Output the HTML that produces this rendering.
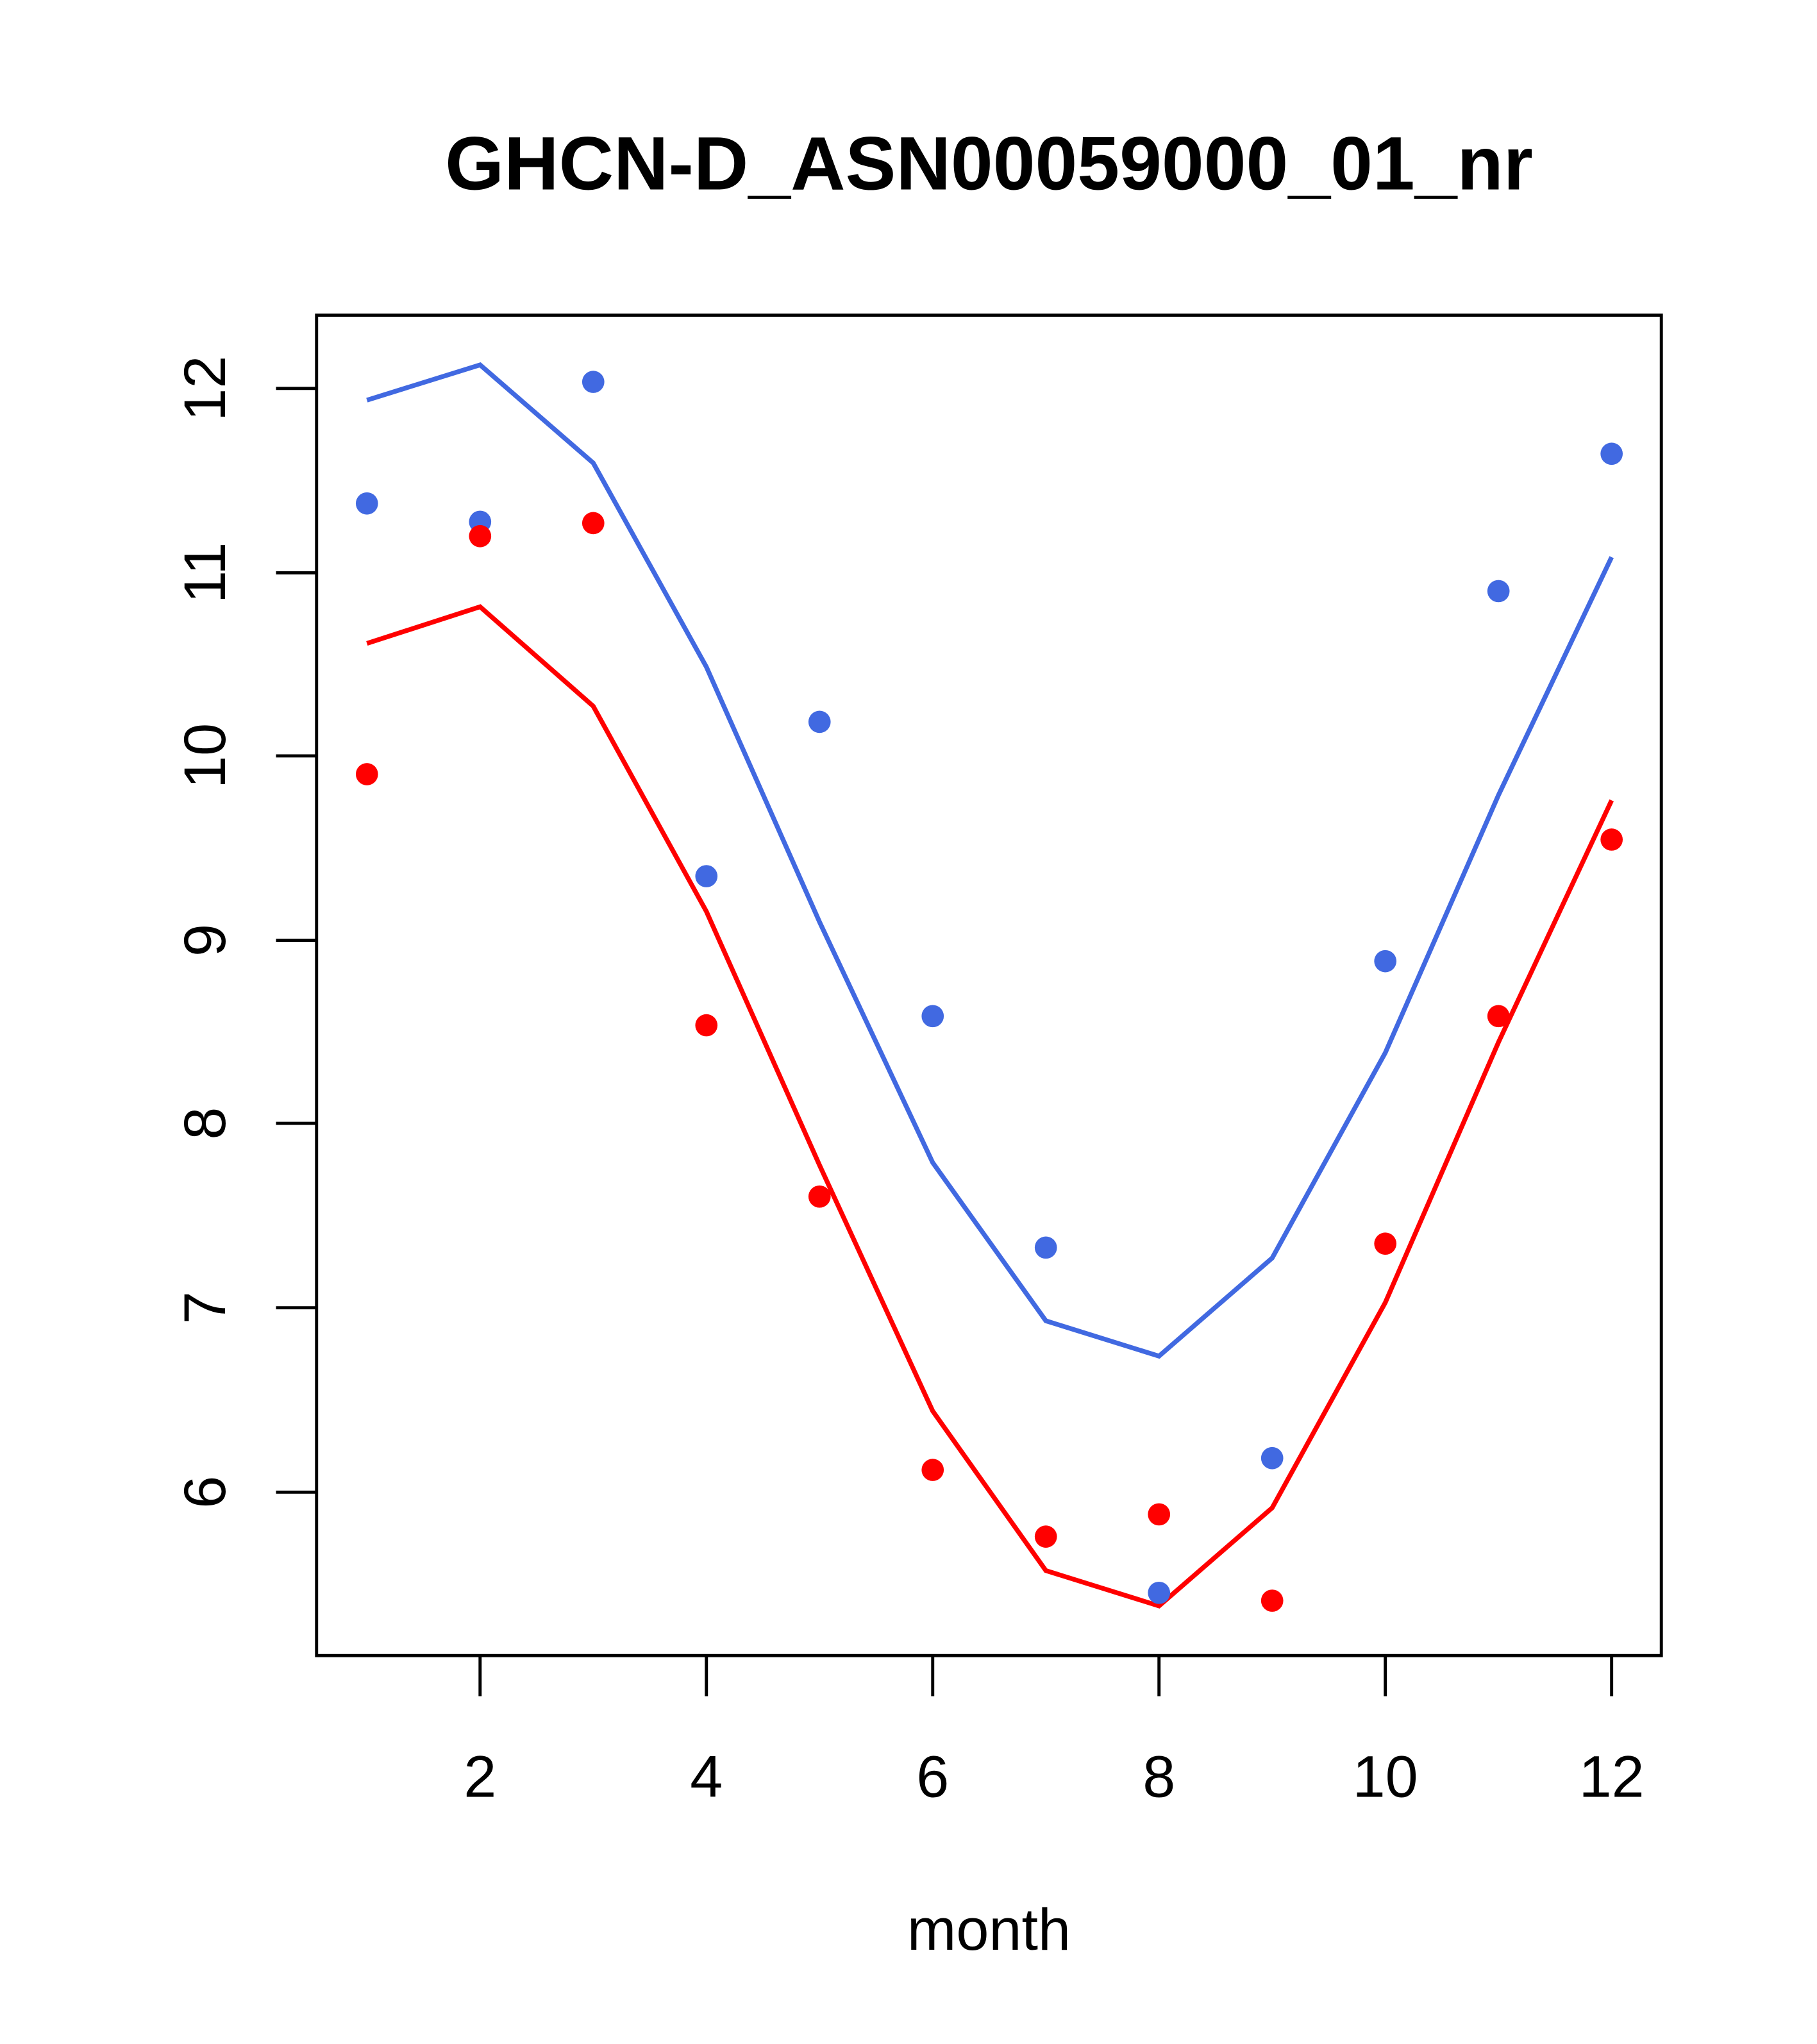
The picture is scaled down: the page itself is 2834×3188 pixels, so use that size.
<!DOCTYPE html>
<html><head><meta charset="utf-8"><style>html,body{margin:0;padding:0;background:#fff}svg{display:block}</style></head>
<body>
<svg width="2834" height="3188" viewBox="0 0 1389 1563" preserveAspectRatio="none" xmlns="http://www.w3.org/2000/svg" font-family="Liberation Sans, Arial, sans-serif">
<rect width="1389" height="1563" fill="#fff"/>
<text x="756" y="145" font-size="58" font-weight="bold" text-anchor="middle">GHCN-D_ASN00059000_01_nr</text>
<rect x="242" y="241" width="1028" height="1025" fill="none" stroke="#000" stroke-width="2.4"/>
<g stroke="#000" stroke-width="2.4">
<line x1="367" y1="1266" x2="367" y2="1297"/><line x1="540" y1="1266" x2="540" y2="1297"/><line x1="713" y1="1266" x2="713" y2="1297"/><line x1="886" y1="1266" x2="886" y2="1297"/><line x1="1059" y1="1266" x2="1059" y2="1297"/><line x1="1232" y1="1266" x2="1232" y2="1297"/>
<line x1="242" y1="297" x2="211" y2="297"/><line x1="242" y1="438" x2="211" y2="438"/><line x1="242" y1="578" x2="211" y2="578"/><line x1="242" y1="719" x2="211" y2="719"/><line x1="242" y1="859" x2="211" y2="859"/><line x1="242" y1="1000" x2="211" y2="1000"/><line x1="242" y1="1141" x2="211" y2="1141"/>
</g>
<g font-size="45" text-anchor="middle">
<text x="367" y="1374">2</text><text x="540" y="1374">4</text><text x="713" y="1374">6</text><text x="886" y="1374">8</text><text x="1059" y="1374">10</text><text x="1232" y="1374">12</text>
<text x="756" y="1491">month</text>
<text transform="translate(172,297) rotate(-90)">12</text>
<text transform="translate(172,438) rotate(-90)">11</text>
<text transform="translate(172,578) rotate(-90)">10</text>
<text transform="translate(172,719) rotate(-90)">9</text>
<text transform="translate(172,859) rotate(-90)">8</text>
<text transform="translate(172,1000) rotate(-90)">7</text>
<text transform="translate(172,1141) rotate(-90)">6</text>
</g>
<polyline fill="none" stroke="#4169E1" stroke-width="3.6" points="280.5,306 367,279 453.5,354 540,510 626.5,705 713,889 799.5,1010 886,1037 972.5,962 1059,805 1145.5,608 1232,426"/>
<polyline fill="none" stroke="#FF0000" stroke-width="3.6" points="280.5,492 367,464 453.5,540 540,697 626.5,891 713,1079 799.5,1201 886,1228 972.5,1153 1059,996 1145.5,797 1232,612"/>
<g fill="#4169E1">
<circle cx="280.5" cy="385" r="8.5"/><circle cx="367" cy="399" r="8.5"/><circle cx="453.5" cy="292" r="8.5"/><circle cx="540" cy="670" r="8.5"/><circle cx="626.5" cy="552" r="8.5"/><circle cx="713" cy="777" r="8.5"/><circle cx="799.5" cy="954" r="8.5"/><circle cx="886" cy="1218" r="8.5"/><circle cx="972.5" cy="1115" r="8.5"/><circle cx="1059" cy="735" r="8.5"/><circle cx="1145.5" cy="452" r="8.5"/><circle cx="1232" cy="347" r="8.5"/>
</g>
<g fill="#FF0000">
<circle cx="280.5" cy="592" r="8.5"/><circle cx="367" cy="410" r="8.5"/><circle cx="453.5" cy="400" r="8.5"/><circle cx="540" cy="784" r="8.5"/><circle cx="626.5" cy="915" r="8.5"/><circle cx="713" cy="1124" r="8.5"/><circle cx="799.5" cy="1175" r="8.5"/><circle cx="886" cy="1158" r="8.5"/><circle cx="972.5" cy="1224" r="8.5"/><circle cx="1059" cy="951" r="8.5"/><circle cx="1145.5" cy="777" r="8.5"/><circle cx="1232" cy="642" r="8.5"/>
</g>
</svg>
</body></html>
